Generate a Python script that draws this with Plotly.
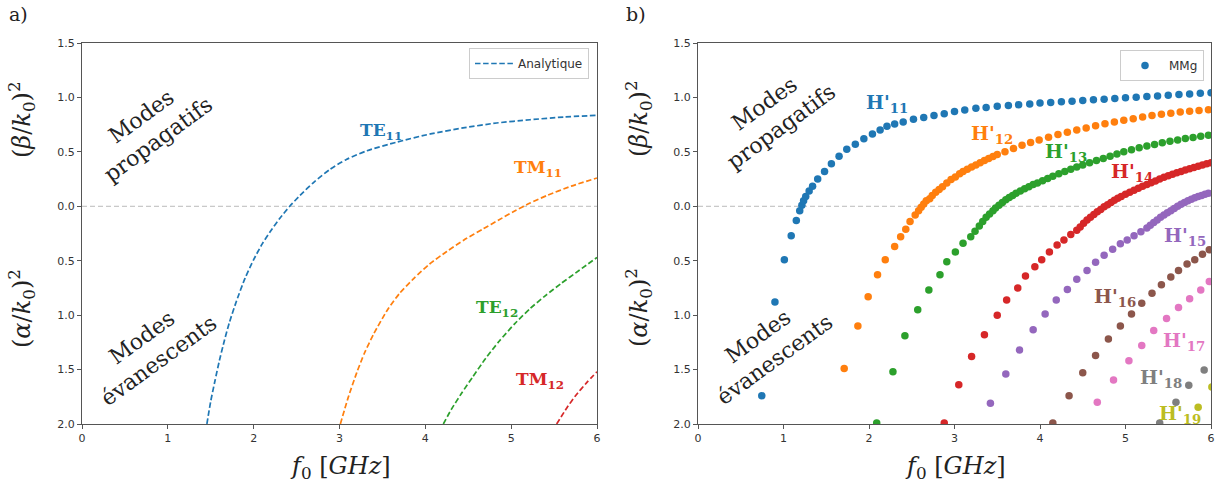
import plotly.graph_objects as go

# ---------------- data: left panel (analytic dashed curves) ----------------
te11_f = [1.455, 1.50, 1.55, 1.60, 1.66, 1.72, 1.80, 1.90, 2.00, 2.10, 2.20, 2.31, 2.42, 2.54, 2.70, 2.89, 3.08, 3.32, 3.67, 4.06, 4.44, 4.83, 5.22, 5.61, 6.00]
te11_v = [-2.00, -1.79, -1.60, -1.42, -1.23, -1.06, -0.87, -0.66, -0.49, -0.345, -0.225, -0.105, 0.00, 0.10, 0.22, 0.34, 0.43, 0.51, 0.59, 0.665, 0.72, 0.765, 0.795, 0.82, 0.835]
tm11_f = [3.01, 3.10, 3.20, 3.29, 3.40, 3.56, 3.70, 3.87, 4.05, 4.25, 4.45, 4.68, 4.85, 5.03, 5.22, 5.42, 5.70, 6.00]
tm11_v = [-2.00, -1.76, -1.53, -1.35, -1.17, -0.95, -0.80, -0.66, -0.53, -0.415, -0.31, -0.205, -0.128, -0.048, 0.03, 0.10, 0.185, 0.26]
te12_f = [4.21, 4.30, 4.42, 4.55, 4.70, 4.86, 5.04, 5.22, 5.40, 5.58, 5.79, 6.00]
te12_v = [-2.00, -1.87, -1.72, -1.57, -1.40, -1.24, -1.08, -0.94, -0.82, -0.71, -0.59, -0.47]
tm12_f = [5.53, 5.65, 5.75, 5.88, 6.00]
tm12_v = [-2.00, -1.85, -1.74, -1.62, -1.52]

analytic_names = ["TE<sub>11</sub>", "TM<sub>11</sub>", "TE<sub>12</sub>", "TM<sub>12</sub>"]
analytic_label_f = [3.48, 5.31, 4.84, 5.34]
analytic_label_v = [0.69, 0.35, -0.94, -1.60]

# ---------------- data: right panel (MMg dots) ----------------
h11_f = [0.746, 0.90, 1.01, 1.09, 1.15, 1.19, 1.215, 1.235, 1.26, 1.30, 1.34, 1.40, 1.48, 1.56, 1.65, 1.74, 1.84, 1.94,
         2.04, 2.13, 2.21, 2.30, 2.40, 2.52, 2.64, 2.76, 2.88, 3.00, 3.12, 3.25, 3.37, 3.50, 3.63, 3.75, 3.88, 4.00,
         4.125, 4.25, 4.375, 4.50, 4.625, 4.75, 4.875, 5.00, 5.125, 5.25, 5.375, 5.50, 5.625, 5.75, 5.875, 6.00]
h11_v = [-1.74, -0.88, -0.49, -0.27, -0.13, -0.04, 0.01, 0.05, 0.09, 0.14, 0.185, 0.25, 0.32, 0.39, 0.46, 0.525, 0.57, 0.62,
         0.665, 0.70, 0.735, 0.755, 0.775, 0.80, 0.815, 0.835, 0.85, 0.87, 0.885, 0.90, 0.907, 0.918, 0.926, 0.932, 0.94, 0.948,
         0.954, 0.960, 0.966, 0.972, 0.978, 0.984, 0.990, 0.996, 1.002, 1.008, 1.014, 1.020, 1.026, 1.032, 1.038, 1.044]

h12_f = [1.71, 1.87, 1.99, 2.10, 2.19, 2.30, 2.37, 2.43, 2.48, 2.54, 2.58, 2.61, 2.64, 2.67, 2.71, 2.74, 2.78, 2.82, 2.86,
         2.91, 2.96, 3.01, 3.06, 3.10, 3.15, 3.20, 3.25, 3.30, 3.35, 3.40, 3.45, 3.50, 3.59, 3.69, 3.79, 3.89, 3.99,
         4.10, 4.21, 4.32, 4.43, 4.54, 4.65, 4.76, 4.87, 4.98, 5.09, 5.20, 5.31, 5.42, 5.53, 5.64, 5.75, 5.86, 5.97]
h12_v = [-1.49, -1.10, -0.83, -0.63, -0.49, -0.37, -0.28, -0.21, -0.14, -0.08, -0.04, -0.01, 0.02, 0.05, 0.07, 0.10, 0.13, 0.155, 0.18,
         0.215, 0.245, 0.27, 0.30, 0.32, 0.34, 0.36, 0.38, 0.40, 0.42, 0.44, 0.458, 0.475, 0.50, 0.53, 0.56, 0.587, 0.61,
         0.635, 0.66, 0.68, 0.70, 0.72, 0.74, 0.758, 0.775, 0.79, 0.805, 0.82, 0.833, 0.845, 0.855, 0.865, 0.873, 0.88, 0.887]

h13_f = [2.09, 2.28, 2.42, 2.57, 2.70, 2.83, 2.91, 3.01, 3.10, 3.19, 3.24, 3.29, 3.33, 3.37, 3.41, 3.45, 3.48, 3.52, 3.56,
         3.60, 3.64, 3.68, 3.72, 3.77, 3.82, 3.87, 3.92, 3.97, 4.03, 4.09, 4.15, 4.22, 4.29, 4.36, 4.43, 4.50, 4.58, 4.66,
         4.74, 4.82, 4.90, 4.98, 5.07, 5.16, 5.25, 5.34, 5.43, 5.52, 5.61, 5.70, 5.79, 5.88, 5.97]
h13_v = [-1.99, -1.52, -1.19, -0.95, -0.77, -0.63, -0.51, -0.42, -0.34, -0.28, -0.23, -0.18, -0.14, -0.10, -0.07, -0.04, -0.015, 0.01, 0.035,
         0.06, 0.08, 0.10, 0.12, 0.14, 0.16, 0.18, 0.20, 0.215, 0.235, 0.255, 0.275, 0.30, 0.32, 0.34, 0.36, 0.38, 0.40, 0.42,
         0.44, 0.46, 0.48, 0.50, 0.52, 0.537, 0.553, 0.568, 0.583, 0.597, 0.61, 0.622, 0.633, 0.643, 0.652]

h14_f = [2.88, 3.05, 3.20, 3.35, 3.50, 3.61, 3.74, 3.83, 3.94, 4.02, 4.11, 4.20, 4.28, 4.36, 4.43, 4.47, 4.51, 4.55, 4.59,
         4.63, 4.67, 4.71, 4.75, 4.79, 4.83, 4.87, 4.91, 4.95, 5.00, 5.05, 5.10, 5.15, 5.20, 5.25, 5.30, 5.35, 5.40, 5.45,
         5.50, 5.55, 5.60, 5.65, 5.70, 5.75, 5.80, 5.85, 5.90, 5.95, 6.00]
h14_v = [-1.99, -1.64, -1.38, -1.18, -1.00, -0.86, -0.75, -0.64, -0.555, -0.49, -0.42, -0.355, -0.31, -0.26, -0.22, -0.19, -0.155, -0.125, -0.10,
         -0.075, -0.05, -0.03, -0.005, 0.015, 0.035, 0.055, 0.073, 0.09, 0.11, 0.13, 0.148, 0.165, 0.183, 0.20, 0.217, 0.233, 0.25, 0.266,
         0.28, 0.294, 0.308, 0.32, 0.333, 0.345, 0.357, 0.368, 0.379, 0.39, 0.40]

h15_f = [3.42, 3.60, 3.76, 3.92, 4.06, 4.19, 4.32, 4.43, 4.55, 4.65, 4.75, 4.85, 4.94, 5.02, 5.10, 5.18, 5.25, 5.29, 5.33,
         5.37, 5.41, 5.45, 5.49, 5.53, 5.57, 5.61, 5.65, 5.69, 5.73, 5.77, 5.81, 5.85, 5.89, 5.93, 5.97]
h15_v = [-1.81, -1.54, -1.32, -1.135, -0.99, -0.86, -0.765, -0.67, -0.59, -0.515, -0.45, -0.395, -0.345, -0.31, -0.27, -0.235, -0.20, -0.175, -0.15,
         -0.125, -0.10, -0.08, -0.06, -0.04, -0.02, 0.00, 0.018, 0.035, 0.05, 0.065, 0.078, 0.09, 0.10, 0.11, 0.12]

h16_f = [4.15, 4.34, 4.50, 4.65, 4.80, 4.94, 5.07, 5.19, 5.31, 5.42, 5.53, 5.62, 5.72, 5.81, 5.90, 5.98]
h16_v = [-1.99, -1.74, -1.53, -1.37, -1.22, -1.10, -0.99, -0.89, -0.80, -0.72, -0.65, -0.59, -0.53, -0.49, -0.44, -0.40]

h17_f = [4.67, 4.86, 5.04, 5.19, 5.33, 5.48, 5.62, 5.75, 5.88, 5.98]
h17_v = [-1.80, -1.595, -1.42, -1.28, -1.14, -1.03, -0.93, -0.85, -0.77, -0.69]

h18_f = [5.40, 5.59, 5.74, 5.92]
h18_v = [-1.99, -1.80, -1.645, -1.505]

h19_f = [5.85, 6.01]
h19_v = [-1.845, -1.66]

mmg_names = ["H'<sub>11</sub>", "H'<sub>12</sub>", "H'<sub>13</sub>", "H'<sub>14</sub>", "H'<sub>15</sub>",
             "H'<sub>16</sub>", "H'<sub>17</sub>", "H'<sub>18</sub>", "H'<sub>19</sub>"]
mmg_label_f = [2.21, 3.44, 4.30, 5.08, 5.70, 4.88, 5.68, 5.41, 5.64]
mmg_label_v = [0.94, 0.655, 0.49, 0.31, -0.28, -0.84, -1.24, -1.585, -1.91]

y_tickvals = [1.5, 1.0, 0.5, 0.0, -0.5, -1.0, -1.5, -2.0]
y_ticktext = ["1.5", "1.0", "0.5", "0.0", "0.5", "1.0", "1.5", "2.0"]
x_tickvals = [0, 1, 2, 3, 4, 5, 6]

colors = ["#1f77b4", "#ff7f0e", "#2ca02c", "#d62728", "#9467bd", "#8c564b", "#e377c2", "#7f7f7f", "#bcbd22"]

# ---------------- figure ----------------
W, H = 1223, 490
fig = go.Figure()

analytic = [(te11_f, te11_v), (tm11_f, tm11_v), (te12_f, te12_v), (tm12_f, tm12_v)]
for i, (fx, vy) in enumerate(analytic):
    fig.add_trace(go.Scatter(
        x=fx, y=vy, mode="lines", line=dict(color=colors[i], width=1.7, dash="5.5px,2.6px", shape="spline", smoothing=0.6),
        name="Analytique", showlegend=(i == 0), legend="legend", xaxis="x", yaxis="y"))

mmg = [(h11_f, h11_v), (h12_f, h12_v), (h13_f, h13_v), (h14_f, h14_v), (h15_f, h15_v),
       (h16_f, h16_v), (h17_f, h17_v), (h18_f, h18_v), (h19_f, h19_v)]
for i, (fx, vy) in enumerate(mmg):
    fig.add_trace(go.Scatter(
        x=fx, y=vy, mode="markers", marker=dict(color=colors[i], size=7.5, line=dict(width=0)),
        name="MMg", showlegend=(i == 0), legend="legend2", xaxis="x2", yaxis="y2"))

axis_common = dict(
    showline=True, mirror=True, linecolor="#555", linewidth=1.2,
    ticks="outside", ticklen=4, tickcolor="#555", tickwidth=1,
    showgrid=False, zeroline=False, automargin=False,
    tickfont=dict(family="DejaVu Sans", size=11, color="#333"),
)
xl, xr = 82 / W, 597 / W
xl2, xr2 = 698 / W, 1211 / W
yb, yt = 1 - 424 / H, 1 - 43 / H

legend_common = dict(xanchor="right", yanchor="top", bgcolor="rgba(255,255,255,0.8)",
                     bordercolor="#cccccc", borderwidth=1, font=dict(family="DejaVu Sans", size=12, color="#333"),
                     itemwidth=38)
fig.update_layout(
    template="none",
    width=W, height=H,
    margin=dict(l=0, r=0, t=0, b=0, pad=0, autoexpand=False),
    paper_bgcolor="white", plot_bgcolor="white",
    xaxis=dict(domain=[xl, xr], range=[0, 6], tickvals=x_tickvals, anchor="y", **axis_common),
    yaxis=dict(domain=[yb, yt], range=[-2, 1.5], tickvals=y_tickvals, ticktext=y_ticktext, anchor="x", **axis_common),
    xaxis2=dict(domain=[xl2, xr2], range=[0, 6], tickvals=x_tickvals, anchor="y2", **axis_common),
    yaxis2=dict(domain=[yb, yt], range=[-2, 1.5], tickvals=y_tickvals, ticktext=y_ticktext, anchor="x2", **axis_common),
    legend=dict(x=589 / W, y=1 - 48 / H, **legend_common),
    legend2=dict(x=1204 / W, y=1 - 50 / H, **legend_common),
    showlegend=True,
)

# zero dashed lines
for xa, ya in [("x", "y"), ("x2", "y2")]:
    fig.add_shape(type="line", xref=f"{xa} domain", yref=ya, x0=0, x1=1, y0=0, y1=0,
                  line=dict(color="#bbbbbb", width=1, dash="5px,3px"), layer="below")

serif = "DejaVu Serif"
annotations = []
def ann(**kw):
    base = dict(showarrow=False, xanchor="center", yanchor="middle")
    base.update(kw)
    annotations.append(base)

# curve labels
for i, name in enumerate(analytic_names):
    ann(x=analytic_label_f[i], y=analytic_label_v[i], xref="x", yref="y", text=f"<b>{name}</b>",
        font=dict(family=serif, size=17, color=colors[i]))
for i, name in enumerate(mmg_names):
    ann(x=mmg_label_f[i], y=mmg_label_v[i], xref="x2", yref="y2", text=f"<b>{name}</b>",
        font=dict(family=serif, size=19, color=colors[i]))

# rotated region texts
for xa, ya, fp, vp, fe, ve in [("x", "y", 0.79, 0.72, 0.80, -1.31), ("x2", "y2", 0.88, 0.84, 0.80, -1.30)]:
    ann(x=fp, y=vp, xref=xa, yref=ya, text="Modes<br>propagatifs", textangle=-36, align="center",
        font=dict(family=serif, size=22, color="#222"))
    ann(x=fe, y=ve, xref=xa, yref=ya, text="Modes<br>évanescents", textangle=-36, align="center",
        font=dict(family=serif, size=22, color="#222"))

# axis titles
for xc in [21, 638]:
    ann(x=xc / W, y=1 - 119 / H, xref="paper", yref="paper", textangle=-90,
        text="(<i>β</i>/<i>k</i><sub>0</sub>)<sup>2</sup>", font=dict(family=serif, size=24, color="#222"))
    ann(x=xc / W, y=1 - 308 / H, xref="paper", yref="paper", textangle=-90,
        text="(<i>α</i>/<i>k</i><sub>0</sub>)<sup>2</sup>", font=dict(family=serif, size=24, color="#222"))
for xc in [340, 955]:
    ann(x=xc / W, y=1 - 467 / H, xref="paper", yref="paper",
        text="<i>f</i><sub>0</sub> [<i>GHz</i>]", font=dict(family=serif, size=24, color="#222"))

# panel letters
ann(x=18 / W, y=1 - 14 / H, xref="paper", yref="paper", text="a)", font=dict(family=serif, size=19, color="#222"))
ann(x=636 / W, y=1 - 14 / H, xref="paper", yref="paper", text="b)", font=dict(family=serif, size=19, color="#222"))

fig.update_layout(annotations=annotations)
fig.write_html("out.html", config={"displayModeBar": False},
               post_script="document.body.style.margin='0px';document.body.style.overflow='hidden';")
